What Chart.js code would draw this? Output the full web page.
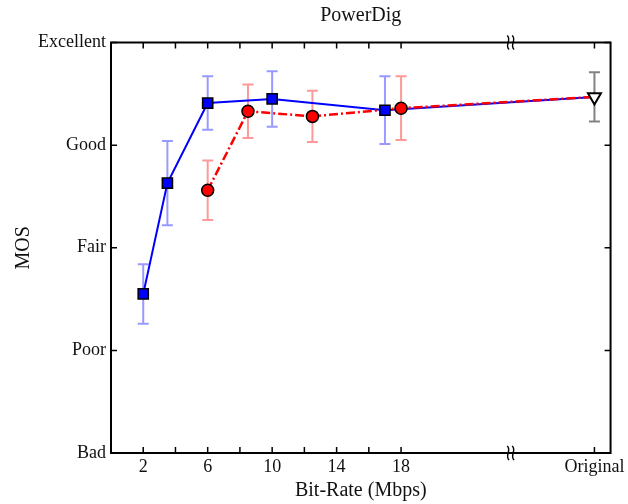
<!DOCTYPE html>
<html>
<head>
<meta charset="utf-8">
<script src="https://cdn.jsdelivr.net/npm/chart.js@4"></script>
<style>
  html, body { margin: 0; padding: 0; background: #fff; }
</style>
</head>
<body>
<canvas id="myChart" width="628" height="504"></canvas>
<script>
const yLabels = ['Bad', 'Poor', 'Fair', 'Good', 'Excellent']
const xTicks = [2, 4, 6, 8, 10, 12, 14, 16, 18, 30]
const xTickLabels = ['2', '', '6', '', '10', '', '14', '', '18', 'Original']

const blueX = [2, 3.5, 6, 10, 17]
const blueMos = [2.55, 3.63, 4.41, 4.45, 4.34]
const blueErr = [0.29, 0.41, 0.26, 0.27, 0.33]

const redX = [6, 8.5, 12.5, 18]
const redMos = [3.56, 4.33, 4.28, 4.36]
const redErr = [0.29, 0.26, 0.25, 0.31]

const origX = [30]
const origMos = [4.47]
const origErr = [0.24]

const breakAt = 24.8

const pts = (xs, ys) => xs.map((x, i) => ({ x: x, y: ys[i] }))

// lines run on to the "Original" point
const blueLine = pts(blueX.concat(origX), blueMos.concat(origMos))
const redLine = pts(redX.concat(origX), redMos.concat(origMos))

const errorBars = [
    { xs: blueX, ys: blueMos, err: blueErr, color: 'rgba(70,70,255,0.55)' },
    { xs: redX, ys: redMos, err: redErr, color: 'rgba(255,70,70,0.55)' },
    { xs: origX, ys: origMos, err: origErr, color: 'rgba(90,90,90,0.75)' }
]

const errorBarPlugin = {
    id: 'errorBars',
    beforeDatasetsDraw(chart) {
        const ctx = chart.ctx
        const xs = chart.scales.x
        const ys = chart.scales.y
        ctx.save()
        ctx.lineWidth = 2
        errorBars.forEach(set => {
            ctx.strokeStyle = set.color
            set.xs.forEach((x, i) => {
                const px = xs.getPixelForValue(x)
                const top = ys.getPixelForValue(set.ys[i] + set.err[i])
                const bot = ys.getPixelForValue(set.ys[i] - set.err[i])
                ctx.beginPath()
                ctx.moveTo(px, top)
                ctx.lineTo(px, bot)
                ctx.moveTo(px - 5.5, top)
                ctx.lineTo(px + 5.5, top)
                ctx.moveTo(px - 5.5, bot)
                ctx.lineTo(px + 5.5, bot)
                ctx.stroke()
            })
        })
        ctx.restore()
    }
}

const framePlugin = {
    id: 'frame',
    afterDraw(chart) {
        const ctx = chart.ctx
        const a = chart.chartArea
        const xs = chart.scales.x
        const ys = chart.scales.y
        ctx.save()
        ctx.strokeStyle = '#000'
        ctx.lineWidth = 2
        ctx.strokeRect(a.left, a.top, a.right - a.left, a.bottom - a.top)
        ctx.lineWidth = 1.5
        ctx.beginPath()
        xTicks.forEach(v => {
            const px = xs.getPixelForValue(v)
            ctx.moveTo(px, a.bottom)
            ctx.lineTo(px, a.bottom - 6)
            ctx.moveTo(px, a.top)
            ctx.lineTo(px, a.top + 6)
        })
        yLabels.forEach((l, i) => {
            const py = ys.getPixelForValue(i + 1)
            ctx.moveTo(a.left, py)
            ctx.lineTo(a.left + 6, py)
            ctx.moveTo(a.right, py)
            ctx.lineTo(a.right - 6, py)
        })
        ctx.stroke()

        // axis break marks
        const bx = xs.getPixelForValue(breakAt)
        ctx.lineWidth = 1.4;
        [a.top, a.bottom].forEach(by => {
            [-2.5, 2.5].forEach(dx => {
                ctx.beginPath()
                ctx.moveTo(bx + dx - 1, by - 7)
                ctx.bezierCurveTo(bx + dx + 4, by - 3, bx + dx - 4, by + 3, bx + dx + 1, by + 7)
                ctx.stroke()
            })
        })
        ctx.restore()
    }
}

Chart.defaults.font.family = '"Liberation Serif", "Times New Roman", serif'
Chart.defaults.color = '#111'

const ctx = document.getElementById('myChart')
const chart = new Chart(ctx, {
    type: 'scatter',
    data: {
        datasets: [
            {
                label: 'orig',
                data: pts(origX, origMos),
                showLine: false,
                pointStyle: 'triangle',
                rotation: 180,
                pointRadius: 7.5,
                backgroundColor: '#fff',
                borderColor: '#000',
                borderWidth: 2,
                order: 0
            },
            {
                label: 'red pts',
                data: pts(redX, redMos),
                showLine: false,
                pointStyle: 'circle',
                pointRadius: 6,
                backgroundColor: '#ff0000',
                borderColor: '#000',
                borderWidth: 1.5,
                order: 1
            },
            {
                label: 'blue pts',
                data: pts(blueX, blueMos),
                showLine: false,
                pointStyle: 'rect',
                pointRadius: 7.2,
                backgroundColor: '#0000ff',
                borderColor: '#000',
                borderWidth: 1.5,
                order: 2
            },
            {
                label: 'red line',
                data: redLine,
                showLine: true,
                pointRadius: 0,
                borderColor: '#ff0000',
                borderWidth: 2.5,
                borderDash: [9, 3, 2, 3],
                order: 3
            },
            {
                label: 'blue line',
                data: blueLine,
                showLine: true,
                pointRadius: 0,
                borderColor: '#0000ff',
                borderWidth: 2,
                order: 4
            }
        ]
    },
    options: {
        responsive: false,
        animation: false,
        devicePixelRatio: 1,
        layout: { padding: { left: 0, right: 16, top: 0, bottom: 0 } },
        plugins: {
            legend: { display: false },
            tooltip: { enabled: false },
            title: {
                display: true,
                text: 'PowerDig',
                fullSize: false,
                font: { size: 20, weight: 'normal' },
                padding: { top: 4, bottom: 14.5 }
            }
        },
        scales: {
            x: {
                type: 'linear',
                min: 0,
                max: 31,
                grid: { display: false, drawTicks: false },
                border: { display: false },
                afterBuildTicks: s => { s.ticks = xTicks.map(v => ({ value: v })) },
                afterFit: s => { s.height = 51 },
                ticks: {
                    autoSkip: false,
                    maxRotation: 0,
                    padding: 3,
                    font: { size: 18 },
                    callback: v => xTickLabels[xTicks.indexOf(v)]
                },
                title: {
                    display: true,
                    text: 'Bit-Rate (Mbps)',
                    font: { size: 20 },
                    padding: { top: 0, bottom: 1 }
                }
            },
            y: {
                min: 1,
                max: 5,
                grid: { display: false, drawTicks: false },
                border: { display: false },
                afterFit: s => { s.width = 111 },
                ticks: {
                    stepSize: 1,
                    padding: 5,
                    font: { size: 18 },
                    callback: v => yLabels[v - 1]
                },
                title: {
                    display: true,
                    text: 'MOS',
                    font: { size: 20 },
                    padding: { top: 12, bottom: 0 }
                }
            }
        }
    },
    plugins: [errorBarPlugin, framePlugin]
})
</script>
</body>
</html>
